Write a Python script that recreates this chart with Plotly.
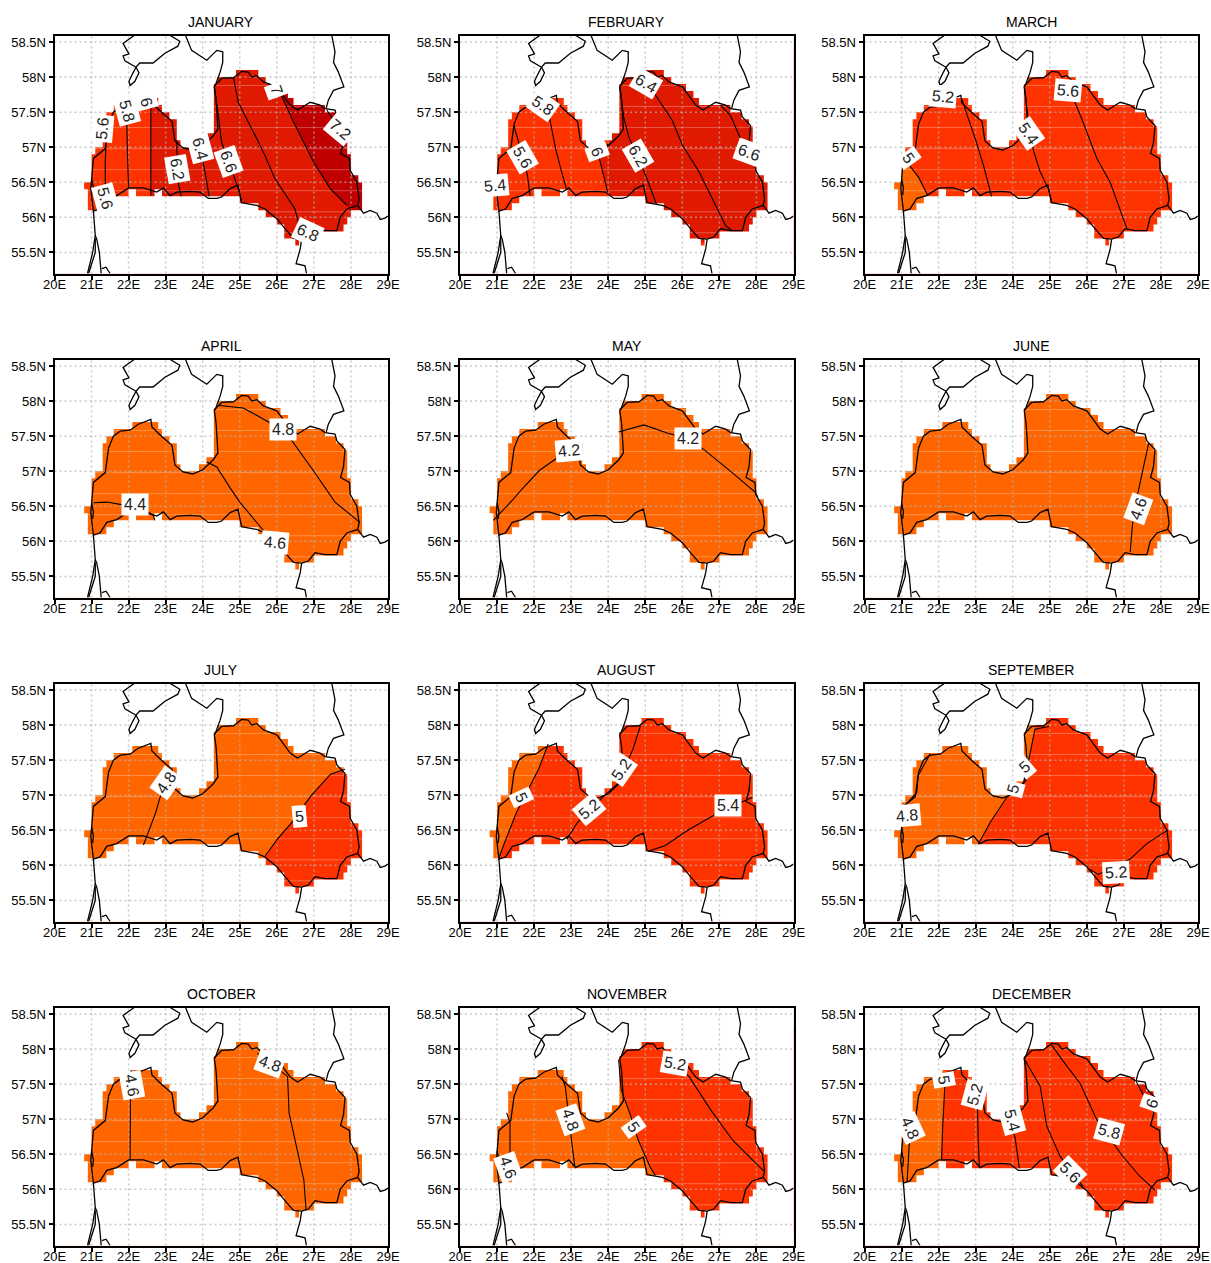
import plotly.graph_objects as go

MONTHS = ["JANUARY","FEBRUARY","MARCH","APRIL","MAY","JUNE","JULY","AUGUST","SEPTEMBER","OCTOBER","NOVEMBER","DECEMBER"]
ORANGE, RED, DEEP, DARK = "#ff6600", "#ff3300", "#e01a00", "#c00000"

X_TICKS = list(range(20, 30))
X_LABELS = [f"{v}E" for v in X_TICKS]
Y_TICKS = [55.5, 56, 56.5, 57, 57.5, 58, 58.5]
Y_LABELS = ["55.5N", "56N", "56.5N", "57N", "57.5N", "58N", "58.5N"]
STITCH_LATS = [57.88, 57.58, 57.28, 56.98, 56.68, 56.38, 56.08, 55.78]

MASK = [(24.9,58.1),(25.5,58.1),(25.5,58.0),(25.7,58.0),(25.7,57.9),(26.1,57.9),(26.1,57.8),(26.3,57.8),(26.3,57.7),
        (26.45,57.7),(26.45,57.6),(27.3,57.6),(27.3,57.5),(27.6,57.5),(27.6,57.4),(27.8,57.4),(27.8,57.3),(27.9,57.3),
        (27.9,56.9),(28.0,56.9),(28.0,56.6),(28.2,56.6),(28.2,56.5),(28.3,56.5),(28.3,56.1),(28.0,56.1),(28.0,56.0),
        (27.9,56.0),(27.9,55.9),(27.8,55.9),(27.8,55.8),(27.0,55.8),(27.0,55.7),(26.6,55.7),(26.6,55.6),(26.5,55.6),
        (26.5,55.7),(26.2,55.7),(26.2,55.9),(26.0,55.9),(26.0,56.0),(25.7,56.0),(25.7,56.1),(25.5,56.1),(25.5,56.2),
        (25.0,56.2),(25.0,56.3),(22.9,56.3),(22.9,56.4),(22.7,56.4),(22.7,56.3),(22.2,56.3),(22.2,56.4),(22.0,56.4),
        (22.0,56.3),(21.6,56.3),(21.6,56.2),(21.4,56.2),(21.4,56.1),(20.9,56.1),(20.9,56.4),(20.8,56.4),(20.8,56.5),
        (21.0,56.5),(21.0,56.9),(21.1,56.9),(21.1,57.0),(21.3,57.0),(21.3,57.4),(21.4,57.4),(21.4,57.5),(21.6,57.5),
        (21.6,57.6),(22.1,57.6),(22.1,57.7),(22.8,57.7),(22.8,57.6),(22.9,57.6),(22.9,57.5),(23.1,57.5),(23.1,57.4),
        (23.3,57.4),(23.3,57.1),(23.4,57.1),(23.4,57.0),(23.9,57.0),(23.9,57.1),(24.1,57.1),(24.1,57.2),(24.3,57.2),
        (24.3,57.9),(24.4,57.9),(24.4,58.0),(24.9,58.0),(24.9,58.1)]

LATVIA = [(24.31,57.87),(24.51,57.98),(24.83,57.99),(25.05,58.08),(25.23,58.07),(25.32,58.0),(25.46,58.02),(25.64,57.93),
          (26.0,57.86),(26.18,57.73),(26.36,57.6),(26.56,57.53),(26.9,57.64),(27.17,57.6),(27.3,57.55),(27.57,57.53),
          (27.62,57.43),(27.84,57.31),(27.8,57.07),(27.72,56.91),(27.96,56.84),(27.98,56.67),(28.16,56.5),(28.22,56.26),
          (28.18,56.17),(27.89,56.12),(27.71,56.0),(27.62,55.81),(27.3,55.81),(27.03,55.84),(26.85,55.72),(26.67,55.69),
          (26.45,55.7),(26.22,55.84),(26.0,55.98),(25.68,56.12),(25.46,56.17),(25.05,56.21),(24.95,56.46),(24.74,56.41),
          (24.51,56.29),(24.38,56.27),(24.15,56.27),(23.93,56.36),(23.66,56.37),(23.3,56.36),(23.12,56.31),(22.94,56.42),
          (22.76,56.36),(22.4,56.42),(22.0,56.42),(21.68,56.31),(21.41,56.27),(21.23,56.12),(21.05,56.09),(20.98,56.41),
          (21.05,56.84),(21.37,56.98),(21.46,57.33),(21.59,57.5),(21.77,57.57),(22.04,57.585),(22.26,57.67),(22.6,57.74),
          (22.63,57.63),(22.9,57.49),(23.17,57.37),(23.25,57.09),(23.47,56.99),(23.73,56.96),(24.0,57.02),(24.28,57.16),
          (24.41,57.26),(24.36,57.69),(24.31,57.87)]
SAAREMAA = [(22.17,58.6),(21.85,58.48),(22.01,58.33),(21.85,58.3),(21.9,58.23),(22.2,58.14),(22.3,58.2),(22.66,58.2),
            (22.98,58.34),(23.33,58.44),(23.38,58.51),(23.1,58.6)]
SAAREMAA_TAIL = [(22.2,58.14),(22.28,58.06),(22.17,57.94),(22.04,57.88),(22.01,57.94),(22.12,58.06),(22.2,58.14)]
ESTONIA_W = [(23.53,58.6),(23.7,58.38),(24.11,58.24),(24.38,58.38),(24.54,58.36),(24.54,58.21),(24.47,58.07),(24.33,57.87)]
ESTONIA_E = [(27.48,58.6),(27.57,58.36),(27.53,58.21),(27.66,58.07),(27.81,57.86),(27.53,57.81),(27.39,57.67),(27.33,57.55)]
BELARUS = [(28.18,56.17),(28.34,56.06),(28.52,56.1),(28.7,56.06),(28.79,55.97),(28.92,55.99),(29.0,56.02)]
LITH_E = [(26.67,55.69),(26.63,55.55),(26.52,55.34),(26.76,55.31),(26.8,55.2)]
LITH_W = [(21.05,56.09),(21.08,55.88),(21.1,55.74),(21.03,55.5),(20.89,55.2)]
SPIT_A = [(21.1,55.74),(21.14,55.69),(21.21,55.5),(21.26,55.2)]
SPIT_B = [(21.1,55.7),(21.1,55.5),(20.92,55.2)]
SPIT_C = [(21.28,55.27),(21.39,55.29),(21.5,55.2)]
TICK_W = [(21.0,56.55),(21.05,56.42),(21.03,56.32)]
COASTS = [LATVIA, SAAREMAA, SAAREMAA_TAIL, ESTONIA_W, ESTONIA_E, BELARUS, LITH_E, LITH_W, SPIT_A, SPIT_B, SPIT_C, TICK_W]

JAN_LINES = [[(21.3,57.26),(21.39,57.08),(21.37,56.79),(21.37,56.43),(21.37,56.27)],
             [(21.95,57.55),(21.95,57.36),(21.97,56.88),(22.0,56.43)],
             [(22.6,57.74),(22.6,57.55),(22.6,56.31)],
             [(23.3,57.1),(23.3,56.98),(23.35,56.46),(23.42,56.3)],
             [(23.93,57.0),(24.02,56.76),(24.11,56.5),(24.17,56.3)],
             [(24.31,57.86),(24.42,57.45),(24.51,57.07),(24.83,56.6),(24.99,56.36),(25.05,56.21)],
             [(24.83,57.99),(24.96,57.64),(25.46,57.12),(25.68,56.88),(25.95,56.55),(26.49,56.12),(26.58,55.93),(26.7,55.75)],
             [(26.13,57.73),(26.45,57.36),(26.99,56.79),(27.44,56.41),(27.89,56.17)],
             [(27.35,57.53),(27.6,57.33),(27.8,57.12)]]
FEB_LINES = [[(20.98,56.35),(21.0,56.6)],
             [(21.46,57.31),(21.5,57.22),(21.7,56.86),(21.82,56.6),(21.89,56.31)],
             [(22.2,57.6),(22.42,57.41),(22.58,56.98),(22.72,56.69),(22.87,56.41)],
             [(24.0,57.05),(23.75,56.86),(23.93,56.48),(23.98,56.36)],
             [(24.31,57.86),(24.42,57.42),(24.56,57.14),(25.01,56.6),(25.3,56.19)],
             [(24.75,58.0),(25.28,57.74),(25.73,57.38),(26.0,57.03),(26.45,56.65),(26.9,56.17),(27.17,55.88),(27.35,55.81)],
             [(27.03,57.6),(27.3,57.45),(27.53,57.17),(27.75,56.95)]]
MAR_LINES = [[(21.05,56.9),(21.2,56.75),(21.46,56.57),(21.7,56.32)],
             [(22.63,57.68),(22.8,57.41),(22.99,57.12),(23.21,56.74),(23.39,56.38),(23.43,56.3)],
             [(24.31,57.86),(24.38,57.55),(24.42,57.36),(24.56,56.95),(24.74,56.65),(24.96,56.41),(25.05,56.21)],
             [(25.14,57.95),(25.64,57.69),(25.86,57.41),(26.27,56.84),(26.63,56.5),(27.08,55.84)]]
APR_LINES = [[(21.05,56.55),(21.41,56.56),(21.85,56.52),(22.3,56.5),(22.66,56.37),(22.71,56.3)],
             [(24.11,57.13),(24.38,57.06),(24.73,56.77),(25.0,56.56),(25.36,56.33),(25.68,56.13)],
             [(24.4,57.94),(25.09,57.9),(25.55,57.77),(25.81,57.69),(26.4,57.44),(26.97,57.02),(27.57,56.56),(28.24,56.27)]]
MAY_LINES = [[(20.9,56.3),(21.42,56.59),(21.68,56.75),(22.14,57.01),(22.6,57.18),(22.93,57.29),(22.99,57.44)],
             [(24.28,57.56),(24.96,57.66),(25.61,57.54),(26.14,57.47),(26.6,57.3),(27.32,56.99),(27.97,56.7),(28.04,56.63)]]
JUN_LINES = [[(27.67,57.4),(27.5,56.99),(27.3,56.5),(27.23,56.23),(27.17,55.85)]]
JUL_LINES = [[(23.06,57.37),(22.86,56.99),(22.73,56.75),(22.53,56.47),(22.4,56.29)],
             [(25.68,56.13),(26.01,56.37),(26.4,56.61),(26.92,56.99),(27.45,57.3),(27.84,57.37)]]
AUG_LINES = [[(22.38,57.73),(22.12,57.37),(21.52,56.75),(21.2,56.32),(21.04,56.09)],
             [(22.88,56.37),(23.17,56.61),(23.89,56.99),(24.28,57.18),(24.67,57.66),(24.87,57.99)],
             [(25.07,56.2),(25.53,56.28),(26.18,56.51),(26.97,56.75),(27.89,56.97)]]
SEP_LINES = [[(21.77,57.59),(21.45,57.28),(21.41,57.04),(21.09,56.85),(21.0,56.51)],
             [(23.07,56.3),(23.39,56.61),(23.84,56.97),(24.29,57.18),(24.42,57.47),(24.6,57.94),(24.98,57.98)],
             [(26.09,55.94),(26.31,55.87),(27.17,56.09),(27.62,56.31),(28.2,56.51)]]
OCT_LINES = [[(22.07,57.7),(22.05,57.25),(22.04,56.42)],
             [(25.48,57.94),(26.29,57.61),(26.33,57.09),(26.53,56.61),(26.73,56.13),(26.79,55.7)]]
NOV_LINES = [[(21.26,57.09),(21.35,56.94),(21.35,56.51),(21.39,56.13)],
             [(22.75,57.61),(22.84,57.47),(23.03,56.61),(23.1,56.32)],
             [(24.28,57.85),(24.35,57.42),(24.61,57.04),(24.81,56.7),(25.13,56.32),(25.27,56.2)],
             [(25.46,57.9),(26.18,57.61),(26.77,57.13),(27.36,56.7),(27.89,56.42),(28.22,56.25)]]
DEC_LINES = [[(21.1,57.0),(21.21,56.66),(21.15,56.11)],
             [(22.2,57.6),(22.17,57.49),(22.11,56.9),(22.08,56.42)],
             [(23.0,57.4),(23.05,57.16),(23.07,56.7),(23.1,56.31)],
             [(23.85,57.0),(24.06,56.75),(24.18,56.3)],
             [(24.3,57.87),(24.74,57.47),(24.92,56.9),(25.28,56.47),(25.9,56.04)],
             [(25.05,58.06),(25.37,57.82),(25.82,57.51),(26.27,56.99),(26.94,56.49),(27.44,56.18),(27.84,55.99)],
             [(27.33,57.54),(27.62,57.25)]]
LINES = [JAN_LINES,FEB_LINES,MAR_LINES,APR_LINES,MAY_LINES,JUN_LINES,JUL_LINES,AUG_LINES,SEP_LINES,OCT_LINES,NOV_LINES,DEC_LINES]

BASE = [RED,RED,RED,ORANGE,ORANGE,ORANGE,ORANGE,RED,RED,ORANGE,ORANGE,RED]
FILLS = [
 [(DEEP,[(22.6,58.4),(22.6,55.6),(29,55.4),(29,58.4)]),
  (DARK,[(25.9,58.3),(26.13,57.73),(26.45,57.36),(26.99,56.79),(27.44,56.41),(27.89,56.17),(28.2,55.9),(29,55.9),(29,58.3)])],
 [(DEEP,[(24.0,58.4),(24.0,57.02),(23.75,56.86),(23.93,56.48),(23.98,56.36),(24.0,55.9),(29,55.4),(29,58.4)])],
 [(ORANGE,[(21.05,56.9),(21.2,56.75),(21.46,56.57),(21.7,56.32),(21.7,55.9),(20.5,55.9),(20.5,56.9)])],
 [],[],[],
 [(RED,[(25.5,55.9),(25.68,56.13),(26.01,56.37),(26.4,56.61),(26.92,56.99),(27.45,57.3),(27.84,57.37),(29,57.5),(29,55.4),(25.5,55.4)])],
 [(ORANGE,[(22.38,57.73),(22.12,57.37),(21.52,56.75),(21.2,56.32),(21.04,56.09),(21.0,55.9),(20.5,55.9),(20.5,58),(22.45,58)])],
 [(ORANGE,[(23.07,55.9),(23.07,56.3),(23.39,56.61),(23.84,56.97),(24.29,57.18),(24.42,57.47),(24.6,57.94),(24.75,58.3),(20.5,58.3),(20.5,55.9)])],
 [],
 [(RED,[(24.28,58.3),(24.28,57.85),(24.35,57.42),(24.61,57.04),(24.81,56.7),(25.13,56.32),(25.27,56.2),(25.4,55.9),(25.4,55.4),(29,55.4),(29,58.3)])],
 [(ORANGE,[(22.17,58),(22.17,57.49),(22.11,56.9),(22.08,56.42),(22.08,55.9),(20.5,55.9),(20.5,58)]),
  (DEEP,[(27.33,57.56),(27.62,57.25),(27.84,57.25),(28.2,57.6),(27.33,57.8)])],
]

# (text, lon, lat, rotation)
LABELS = [
 [("5.6",21.3,57.26,-85),("5.8",21.95,57.52,75),("6",22.49,57.64,75),("6.2",23.3,56.69,80),("6.4",23.93,56.98,75),
  ("6.6",24.69,56.79,70),("5.6",21.37,56.27,75),("7",26.0,57.81,70),("7.2",27.71,57.25,40),("6.8",26.83,55.79,25)],
 [("5.4",20.94,56.46,-5),("5.6",21.7,56.86,60),("5.8",22.24,57.6,35),("6",23.7,56.94,70),("6.2",24.8,56.88,60),
  ("6.4",25.03,57.91,30),("6.6",27.8,56.93,20)],
 [("5",21.2,56.84,55),("5.2",22.13,57.72,5),("5.4",24.42,57.19,55),("5.6",25.5,57.81,5)],
 [("4.4",22.17,56.52,0),("4.6",25.95,55.99,5),("4.8",26.16,57.59,0)],
 [("4.2",22.93,57.29,-5),("4.2",26.14,57.47,0)],
 [("4.6",27.39,56.47,-70)],
 [("4.8",23.02,57.18,-55),("5",26.6,56.69,-5)],
 [("5",21.66,56.97,65),("5.2",24.35,57.37,-55),("5.2",23.47,56.8,-40),("5.4",27.23,56.85,0)],
 [("4.8",21.14,56.71,-5),("5",24.02,57.09,-75),("5",24.33,57.41,-40),("5.2",26.78,55.9,-3)],
 [("4.6",22.08,57.49,80),("4.8",25.81,57.8,20)],
 [("4.6",21.3,56.31,70),("4.8",22.97,56.99,70),("5",24.67,56.89,55),("5.2",25.8,57.8,10)],
 [("4.8",21.24,56.87,65),("5",22.13,57.56,80),("5.2",22.98,57.35,-75),("5.4",23.97,56.99,75),("5.6",25.55,56.24,45),
  ("5.8",26.61,56.82,15),("6",27.75,57.23,-70)],
]

W, H = 1211, 1263
PANEL_W, PANEL_H = 333.5, 237.5
LEFTS = [54.5, 460, 864.5]
TOPS = [36, 360, 684, 1008]
FONT = "Liberation Sans"

def xs(pts): return [p[0] for p in pts]
def ys(pts): return [p[1] for p in pts]

def join(seqs):
    ox, oy = [], []
    for s in seqs:
        ox += xs(s) + [None]
        oy += ys(s) + [None]
    return ox, oy

fig = go.Figure()
annots = []
OUTER = [(24.9,58.8),(19.8,58.8),(19.8,55.0),(29.2,55.0),(29.2,58.8),(24.9,58.8)]
WHITE = OUTER + MASK + [(24.9,58.8)]
GRID_V = [[(v,55.2),(v,58.585)] for v in X_TICKS[1:-1]]
GRID_H = [[(20,v),(29,v)] for v in Y_TICKS]
STITCH = [[(20,v),(29,v)] for v in STITCH_LATS]
gx, gy = join(GRID_V + GRID_H)
sx, sy = join(STITCH)
cx, cy = join(COASTS)

for i, month in enumerate(MONTHS):
    r, c = divmod(i, 3)
    n = "" if i == 0 else str(i + 1)
    xa, ya = "x" + n, "y" + n
    kw = dict(xaxis=xa, yaxis=ya, hoverinfo="skip", showlegend=False)
    basepoly = [(20,55.2),(20,58.585),(29,58.585),(29,55.2)]
    fig.add_trace(go.Scatter(x=xs(basepoly), y=ys(basepoly), mode="lines", fill="toself", fillcolor=BASE[i], line=dict(width=0), **kw))
    for col, poly in FILLS[i]:
        fig.add_trace(go.Scatter(x=xs(poly), y=ys(poly), mode="lines", fill="toself", fillcolor=col, line=dict(width=0, simplify=False), **kw))
    fig.add_trace(go.Scatter(x=sx, y=sy, mode="lines", line=dict(color="rgba(255,255,255,0.28)", width=1), **kw))
    fig.add_trace(go.Scatter(x=xs(WHITE), y=ys(WHITE), mode="lines", fill="toself", fillcolor="white", line=dict(width=0, simplify=False), **kw))
    fig.add_trace(go.Scatter(x=gx, y=gy, mode="lines", line=dict(color="rgba(180,180,180,0.7)", width=1.5, dash="2px,3px"), **kw))
    fig.add_trace(go.Scatter(x=cx, y=cy, mode="lines", line=dict(color="black", width=1.3, simplify=False), **kw))
    lx, ly = join(LINES[i])
    fig.add_trace(go.Scatter(x=lx, y=ly, mode="lines", line=dict(color="black", width=1.1, simplify=False), **kw))

    x0 = LEFTS[c]
    y0 = TOPS[r]
    common = dict(showgrid=False, zeroline=False, showline=True, linecolor="black", linewidth=2, mirror=True,
                  ticks="outside", ticklen=4, tickwidth=1.5, tickcolor="black", automargin=False,
                  tickfont=dict(family=FONT, size=13, color="black"), tickmode="array")
    fig.layout["xaxis" + n] = dict(domain=[x0 / W, (x0 + PANEL_W) / W], range=[20, 29], tickvals=X_TICKS, ticktext=X_LABELS,
                                   anchor=ya, ticklabelstandoff=-6, **common)
    fig.layout["yaxis" + n] = dict(domain=[1 - (y0 + PANEL_H) / H, 1 - y0 / H], range=[55.2, 58.585], tickvals=Y_TICKS,
                                   ticktext=Y_LABELS, anchor=xa, **common)
    annots.append(dict(text=month, xref="paper", yref="paper", x=(x0 + PANEL_W / 2) / W, y=1 - (y0 - 14) / H,
                       xanchor="center", yanchor="middle", showarrow=False, font=dict(family=FONT, size=14, color="black")))
    for text, lon, lat, rot in LABELS[i]:
        annots.append(dict(text=text, xref=xa, yref=ya, x=lon, y=lat, textangle=rot, showarrow=False, bgcolor="white",
                           xanchor="center", yanchor="middle", borderpad=2, font=dict(family=FONT, size=16, color="#222222")))

fig.update_layout(width=W, height=H, margin=dict(l=0, r=0, t=0, b=0), paper_bgcolor="white", plot_bgcolor="white",
                  annotations=annots, showlegend=False)
fig.write_html("out.html", config={"displayModeBar": False},
               post_script="document.body.style.margin='0';document.documentElement.style.overflow='hidden';")
